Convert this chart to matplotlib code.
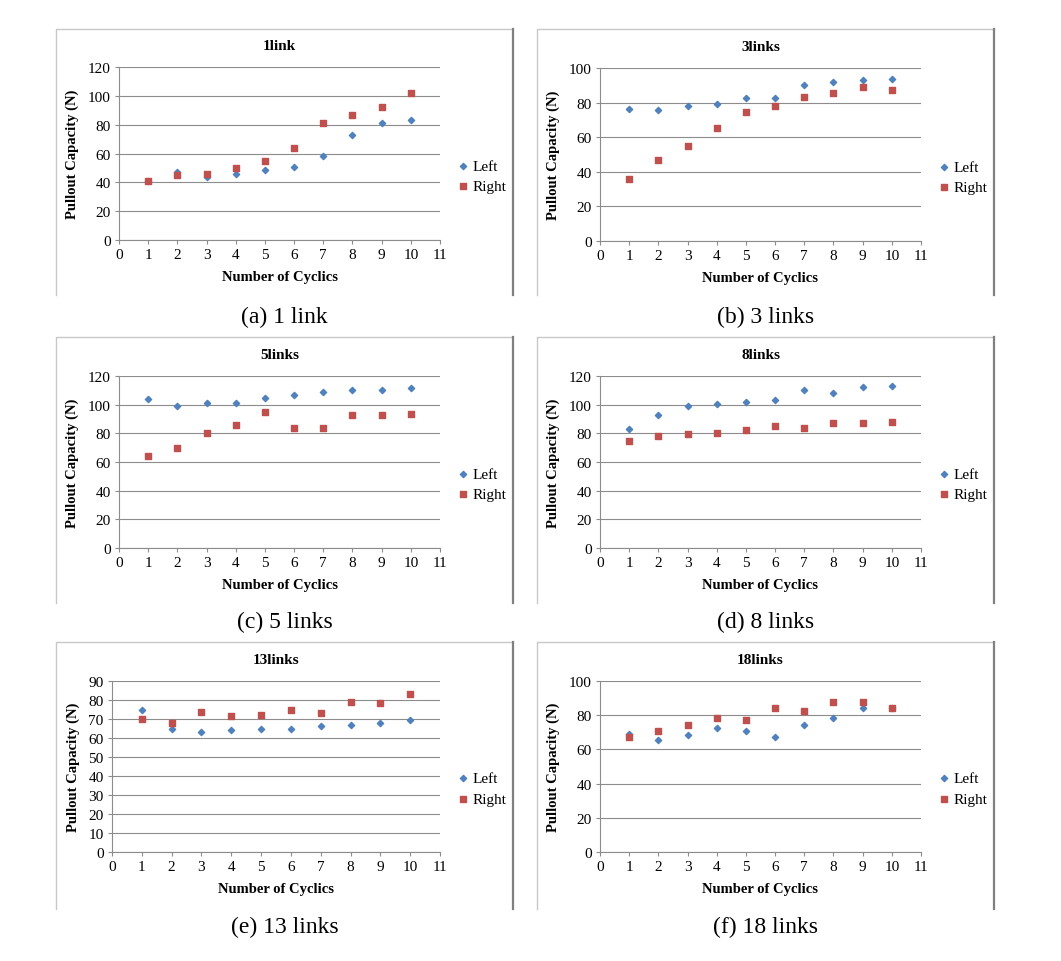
import matplotlib
matplotlib.use("Agg")
import matplotlib.pyplot as plt
from matplotlib.lines import Line2D

# cycles 1..10
cycles = [1, 2, 3, 4, 5, 6, 7, 8, 9, 10]

titles = ["1link", "3links", "5links", "8links", "13links", "18links"]
captions = ["(a) 1 link", "(b) 3 links", "(c) 5 links", "(d) 8 links", "(e) 13 links", "(f) 18 links"]

left_1 = [41, 47, 44, 45.5, 48.5, 50.5, 58, 73, 81.5, 83]
right_1 = [41, 45, 45.5, 50, 55, 63.5, 81, 86.5, 92.5, 102]

left_3 = [76.5, 75.5, 78, 79, 82.5, 82.5, 90, 92, 93, 93.5]
right_3 = [36, 47, 55, 65.5, 74.5, 78, 83, 85.5, 89, 87.5]

left_5 = [104, 99, 101.5, 101, 104.5, 107, 108.5, 110.5, 110, 111.5]
right_5 = [64.5, 70, 80.5, 86, 95, 84, 84, 92.5, 93, 93.5]

left_8 = [83, 93, 99, 100.5, 102, 103, 110, 108, 112, 113]
right_8 = [75, 78, 79.5, 80, 82, 85, 83.5, 87.5, 87, 88]

left_13 = [74.5, 64.5, 63, 64, 64.5, 65, 66.5, 67, 68, 69.5]
right_13 = [70, 68, 73.5, 71.5, 72, 74.5, 73, 79, 78.5, 83]

left_18 = [69, 65.5, 68.5, 72.5, 71, 67, 74, 78.5, 84, 84.5]
right_18 = [67, 70.5, 74, 78.5, 77, 84, 82.5, 88, 88, 84.5]

lefts = [left_1, left_3, left_5, left_8, left_13, left_18]
rights = [right_1, right_3, right_5, right_8, right_13, right_18]
ymaxes = [120, 100, 120, 120, 90, 100]
ysteps = [20, 20, 20, 20, 10, 20]

W, H = 1061, 962
plt.rcParams['font.family'] = ['Liberation Serif', 'DejaVu Serif']
fig = plt.figure(figsize=(W / 100, H / 100), dpi=100)


def box(l, t, r, b):
    # pixel box -> figure fraction [left, bottom, width, height]
    return [l / W, 1 - b / H, (r - l) / W, (b - t) / H]


def fig_line(xs, ys, **kw):
    fig.lines.append(Line2D([x / W for x in xs], [1 - y / H for y in ys],
                            transform=fig.transFigure, **kw))


# axes boxes in pixels (left, top, right, bottom)
axes_px = [(119, 68, 440, 241), (600, 69, 921, 242),
           (119, 377, 440, 549), (600, 377, 921, 549),
           (112, 682, 440, 853), (600, 682, 921, 853)]
frames_px = [(56, 30, 513, 296), (537, 30, 994, 296),
             (56, 338, 513, 604), (537, 338, 994, 604),
             (56, 643, 513, 910), (537, 643, 994, 910)]
caption_y = [317, 317, 622, 622, 927, 927]

blue = '#4F81BD'
red = '#C0504D'

for i in range(6):
    fl, ft, fr, fb = frames_px[i]
    # chart frame: open at the bottom, darker right edge
    fig_line([fl, fl, fr], [fb, ft, ft], color='#c8c8c8', linewidth=1.0)
    fig_line([fr, fr], [ft, fb], color='#808080', linewidth=1.6)

    ax = fig.add_axes(box(*axes_px[i]))
    ax.scatter(cycles, lefts[i], marker='D', s=10, color=blue, label='Left', zorder=3)
    ax.scatter(cycles, rights[i], marker='s', s=20, color=red, label='Right', zorder=3)
    ax.set_xlim(0, 11)
    ax.set_ylim(0, ymaxes[i])
    ax.set_xticks(range(0, 12))
    ax.set_yticks(range(0, ymaxes[i] + 1, ysteps[i]))
    ax.yaxis.grid(True, color='#8c8c8c', linewidth=0.8)
    ax.set_axisbelow(True)
    for s in ['top', 'right']:
        ax.spines[s].set_visible(False)
    for s in ['left', 'bottom']:
        ax.spines[s].set_color('#8c8c8c')
    ax.tick_params(axis='both', labelsize=11, length=3, color='#8c8c8c', pad=3)
    ax.set_title(titles[i], fontsize=11, fontweight='bold', pad=13)
    ax.set_xlabel('Number of Cyclics', fontsize=10.5, fontweight='bold', labelpad=6)
    ax.set_ylabel('Pullout Capacity (N)', fontsize=10.5, fontweight='bold', labelpad=6)
    ax.legend(loc='center left', bbox_to_anchor=(1.0, 0.37), frameon=False,
              fontsize=11, handletextpad=0.0, labelspacing=0.45, borderaxespad=0.5,
              markerscale=1.0, handlelength=1.2)

    fig.text((fl + fr) / 2 / W, 1 - caption_y[i] / H, captions[i], ha='center', va='center',
             fontsize=17)

fig.savefig('out.png', dpi=100)
